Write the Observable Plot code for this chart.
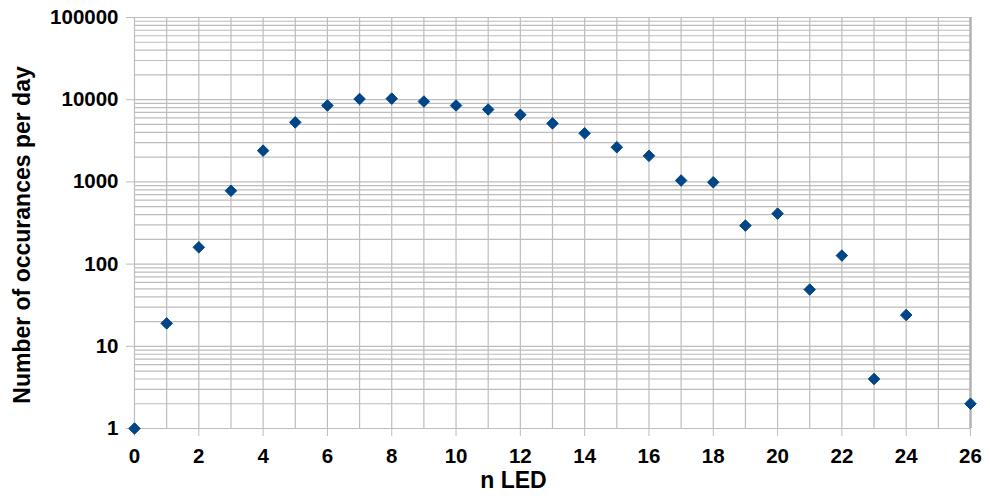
<!DOCTYPE html>
<html>
<head>
<meta charset="utf-8">
<script src="https://cdn.jsdelivr.net/npm/d3@7"></script>
<script src="https://cdn.jsdelivr.net/npm/@observablehq/plot@0.6"></script>
<style>
  html, body { margin: 0; padding: 0; background: #fff; }
  #chart svg { display: block; }
</style>
</head>
<body>
<div id="chart"></div>
<script>
const nLED = [0,1,2,3,4,5,6,7,8,9,10,11,12,13,14,15,16,17,18,19,20,21,22,23,24,26];
const occurrences = [1,19,160,780,2400,5300,8500,10200,10300,9500,8500,7600,6550,5150,3900,2640,2075,1040,990,294,411,49,127,4,24,2];
const xTicks = [0,2,4,6,8,10,12,14,16,18,20,22,24,26];
const yTicks = [1,10,100,1000,10000,100000];
const xTitle = ["n LED"];
const yTitle = ["Number of occurances per day"];

const data = nLED.map((n, i) => ({n, v: occurrences[i]}));
const xGrid = d3.range(0, 27);
const yGrid = [];
for (let d = 0; d < 5; d++) for (let k = 1; k <= 9; k++) yGrid.push(k * Math.pow(10, d));
yGrid.push(100000);

const gridColor = "#bdbdbd";
const font = "'Liberation Sans', Arial, sans-serif";

const chart = Plot.plot({
  width: 990,
  height: 500,
  marginLeft: 134,
  marginRight: 20,
  marginTop: 17,
  marginBottom: 72,
  style: {fontFamily: font, fontSize: "20px", fontWeight: "bold", color: "#000", background: "#fff"},
  x: {domain: [0, 26]},
  y: {type: "log", domain: [1, 100000]},
  marks: [
    Plot.ruleY(yGrid, {stroke: gridColor, strokeWidth: 1.2}),
    Plot.ruleX(xGrid, {stroke: gridColor, strokeWidth: 1.2}),
    Plot.ruleX([26], {stroke: "#b3b3b3", strokeWidth: 2.5}),
    Plot.axisY({ticks: yTicks, tickFormat: d => String(d), tickSize: 8, tickPadding: 8, label: null, stroke: gridColor, fontSize: 20.5, fontWeight: "bold"}),
    Plot.axisX({ticks: xTicks, tickFormat: d => String(d), tickSize: 8, tickPadding: 12, label: null, stroke: gridColor, fontSize: 20.5, fontWeight: "bold"}),
    Plot.dot(data, {x: "n", y: "v", symbol: "diamond2", r: 5.2, fill: "#004586", stroke: "#004586", strokeWidth: 1}),
    Plot.text(yTitle, {frameAnchor: "left", textAnchor: "middle", rotate: -90, dx: -112, dy: 12, fontSize: 23, fontWeight: "bold", fill: "#000"}),
    Plot.text(xTitle, {frameAnchor: "bottom", textAnchor: "middle", dx: -39, dy: 59, fontSize: 23, fontWeight: "bold", fill: "#000"})
  ]
});
document.getElementById("chart").appendChild(chart);
</script>
</body>
</html>
